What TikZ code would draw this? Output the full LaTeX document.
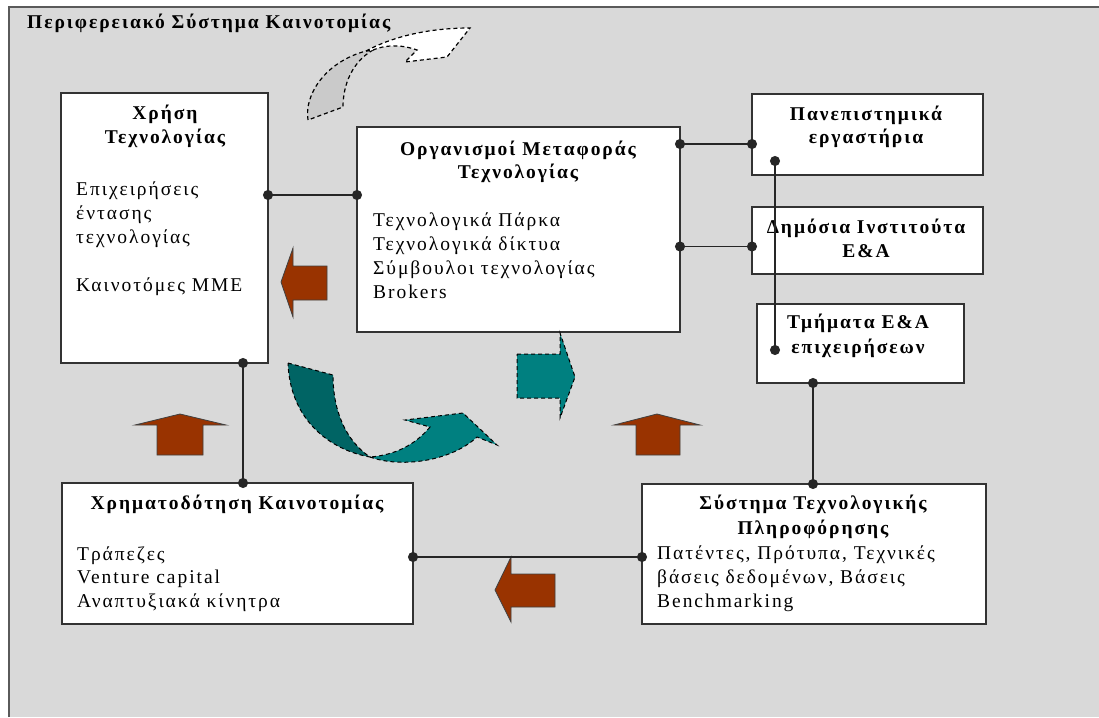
\documentclass[tikz,border=0pt]{standalone}
\usepackage{fontspec}
\setmainfont{Liberation Serif}
\newfontfamily\dgmfont[LetterSpace=10]{Liberation Serif}
\usetikzlibrary{arrows.meta}
\definecolor{bggray}{HTML}{D9D9D9}
\definecolor{framegray}{HTML}{5A5A5A}
\definecolor{brownar}{HTML}{993300}
\definecolor{tealar}{HTML}{008080}
\definecolor{darkteal}{HTML}{006464}
\definecolor{tailgray}{HTML}{CACACA}
\begin{document}
\begin{tikzpicture}[x=1pt,y=-1pt,
  box/.style={draw=black!80, fill=white, line width=1.3pt, inner sep=0pt, outer sep=0pt},
  hd/.style={font=\dgmfont\bfseries\fontsize{19.5}{22}\selectfont, inner sep=0pt, anchor=base},
  bt/.style={font=\dgmfont\fontsize{19.5}{22}\selectfont, inner sep=0pt, anchor=base west},
  link/.style={draw=black!85, line width=1.1pt, {Circle[length=10pt]}-{Circle[length=10pt]}, shorten <=-5pt, shorten >=-5pt},
  blockar/.style={fill=brownar, draw=black!75, line width=0.8pt, line join=miter},
  dashar/.style={draw=black, line width=1.2pt, dash pattern=on 4pt off 3pt}
]
\useasboundingbox (0,0) rectangle (1099,717);
\fill[white] (0,0) rectangle (1099,717);
\fill[bggray] (9,7) rectangle (1099,717);
\draw[framegray, line width=2pt] (9,717) -- (9,7) -- (1099,7);

% title
\node[hd, anchor=base west] (title) at (27,29) {Περιφερειακό Σύστημα Καινοτομίας};

% top dashed arrow
\path[dashar, fill=tailgray] (308,120) .. controls (304,95) and (325,62) .. (366,51) -- (373,50) .. controls (352,62) and (343,85) .. (343,107) -- cycle;
\path[dashar, fill=white] (366,51) .. controls (390,38) and (425,28) .. (470,28) -- (447,57) -- (405,62) -- (417,50) .. controls (400,44) and (385,45) .. (373,50) -- cycle;

% boxes
\node[box, minimum width=207pt, minimum height=270pt] (use) at (164.5,228) {};
\node[box, minimum width=323pt, minimum height=205pt] (org) at (518.5,229.5) {};
\node[box, minimum width=231pt, minimum height=81pt] (uni) at (867.5,134.5) {};
\node[box, minimum width=231pt, minimum height=67pt] (pub) at (867.5,240.5) {};
\node[box, minimum width=207pt, minimum height=79pt] (rnd) at (860.5,343.5) {};
\node[box, minimum width=351pt, minimum height=141pt] (fin) at (237.5,553.5) {};
\node[box, minimum width=344pt, minimum height=140pt] (inf) at (814,554) {};

% texts: use
\node[hd] (use1) at (165,119) {Χρήση};
\node[hd] (use2) at (165,143) {Τεχνολογίας};
\node[bt] (use3) at (76,195) {Επιχειρήσεις};
\node[bt] (use4) at (76,219) {έντασης};
\node[bt] (use5) at (76,243) {τεχνολογίας};
\node[bt] (use6) at (76,291) {Καινοτόμες ΜΜΕ};
% org
\node[hd] (org1) at (518,155) {Οργανισμοί Μεταφοράς};
\node[hd] (org2) at (518,178) {Τεχνολογίας};
\node[bt] (org3) at (373,226) {Τεχνολογικά Πάρκα};
\node[bt] (org4) at (373,250) {Τεχνολογικά δίκτυα};
\node[bt] (org5) at (373,274) {Σύμβουλοι τεχνολογίας};
\node[bt] (org6) at (373,298) {Brokers};
% right column
\node[hd] (uni1) at (866,120) {Πανεπιστημικά};
\node[hd] (uni2) at (866,143) {εργαστήρια};
\node[hd] (pub1) at (866,233) {Δημόσια Ινστιτούτα};
\node[hd] (pub2) at (866,257) {Ε\&Α};
\node[hd] (rnd1) at (858,328) {Τμήματα Ε\&Α};
\node[hd] (rnd2) at (858,353) {επιχειρήσεων};
% fin
\node[hd] (fin1) at (237,509) {Χρηματοδότηση Καινοτομίας};
\node[bt] (fin2) at (77,560) {Τράπεζες};
\node[bt] (fin3) at (77,583) {Venture capital};
\node[bt] (fin4) at (77,607) {Αναπτυξιακά κίνητρα};
% inf
\node[hd] (inf1) at (813,509) {Σύστημα Τεχνολογικής};
\node[hd] (inf2) at (813,534) {Πληροφόρησης};
\node[bt] (inf3) at (657,559) {Πατέντες, Πρότυπα, Τεχνικές};
\node[bt] (inf4) at (657,583) {βάσεις δεδομένων, Βάσεις};
\node[bt] (inf5) at (657,607) {Benchmarking};

% brown block arrows
\path[blockar] (281,282) -- (293,248) -- (293,266) -- (327,266) -- (327,300) -- (293,300) -- (293,317) -- cycle;
\path[blockar] (495,590) -- (511,557) -- (511,574) -- (555,574) -- (555,607) -- (511,607) -- (511,622) -- cycle;
\path[blockar] (180,414) -- (226,425) -- (203,425) -- (203,455) -- (157,455) -- (157,425) -- (135,425) -- cycle;
\path[blockar] (657,414) -- (700,425) -- (680,425) -- (680,455) -- (636,455) -- (636,425) -- (614,425) -- cycle;

% teal arrows
\path[dashar, line width=1pt, fill=tealar] (517,354) -- (560,354) -- (560,333) -- (575,377) -- (560,418) -- (560,398) -- (517,398) -- cycle;
\path[dashar, line width=1pt, fill=tealar] (370,457) .. controls (400,468) and (450,462) .. (477,437) -- (497,445) -- (463,413) -- (405,420) -- (430,427) .. controls (415,445) and (395,455) .. (370,457) -- cycle;
\path[dashar, line width=1pt, fill=darkteal] (288,363) -- (333,375) .. controls (333,410) and (345,440) .. (370,457) .. controls (330,450) and (290,420) .. (288,363) -- cycle;

% connectors
\draw[link] ([yshift=33pt]use.east) -- ([yshift=34.5pt]org.west);
\draw[link] ([yshift=85.5pt]org.east) -- ([yshift=-9.5pt]uni.west);
\draw[link] ([yshift=-17pt]org.east) -- ([yshift=-6pt]pub.west);
\draw[link] ([xshift=23pt,yshift=14pt]uni.south west) -- ([xshift=18pt,yshift=33pt]rnd.south west);
\draw[link] ([xshift=-47.5pt]rnd.south) -- ([xshift=-1pt]inf.north);
\draw[link] ([yshift=-3pt]inf.west) -- ([yshift=-3.5pt]fin.east);
\draw[link] ([xshift=78.5pt]use.south) -- ([xshift=5.5pt]fin.north);
\end{tikzpicture}
\end{document}
